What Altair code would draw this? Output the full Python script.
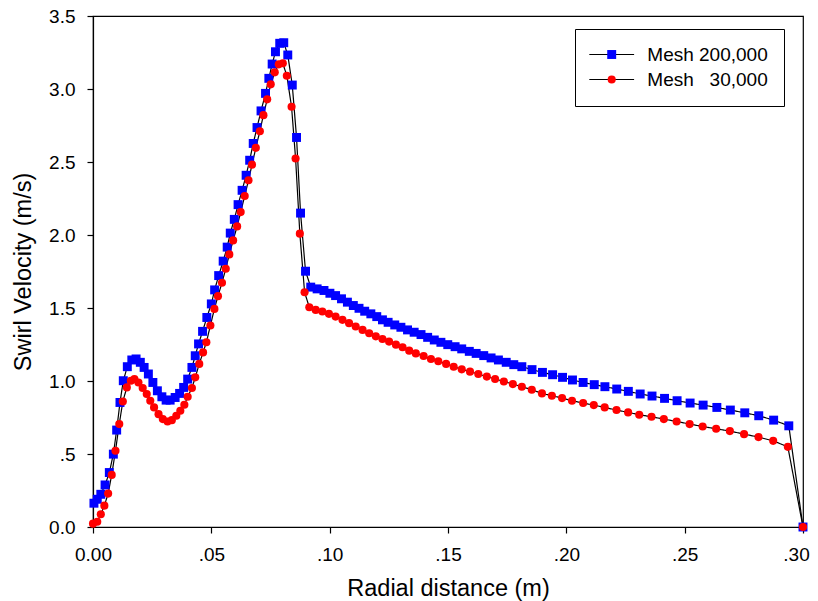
import altair as alt
import pandas as pd

# ---------------- data ----------------
series_names = ["Mesh 200,000", "Mesh\u00a0\u00a0\u00a030,000"]

x_200k = [0.0004, 0.0018, 0.0033, 0.0051, 0.0069, 0.0086, 0.0100, 0.0114, 0.0128, 0.0145,
          0.0164, 0.0182, 0.0200, 0.0216, 0.0234, 0.0253, 0.0272, 0.0291, 0.0309, 0.0326,
          0.0347, 0.0366, 0.0383, 0.0400, 0.0418, 0.0432, 0.0446, 0.0463, 0.0481, 0.0500,
          0.0514, 0.0531, 0.0550, 0.0567, 0.0580, 0.0597, 0.0613, 0.0630, 0.0647, 0.0662,
          0.0677, 0.0693, 0.0710, 0.0729, 0.0743, 0.0757, 0.0771, 0.0789, 0.0806, 0.0823,
          0.0842, 0.0860, 0.0877, 0.0898, 0.0920, 0.0947, 0.0976, 0.1001, 0.1025, 0.1050,
          0.1075, 0.1100, 0.1124, 0.1148, 0.1174, 0.1199, 0.1223, 0.1247, 0.1275, 0.1301,
          0.1329, 0.1357, 0.1386, 0.1414, 0.1442, 0.1470, 0.1499, 0.1530, 0.1558, 0.1590,
          0.1619, 0.1651, 0.1682, 0.1713, 0.1746, 0.1778, 0.1812, 0.1855, 0.1899, 0.1942,
          0.1984, 0.2026, 0.2071, 0.2118, 0.2163, 0.2213, 0.2262, 0.2312, 0.2362, 0.2415,
          0.2468, 0.2523, 0.2578, 0.2636, 0.2693, 0.2754, 0.2813, 0.2876, 0.2940, 0.3000]
v_200k = [0.163, 0.190, 0.224, 0.288, 0.373, 0.499, 0.664, 0.853, 1.002, 1.098,
          1.144, 1.151, 1.128, 1.093, 1.048, 0.990, 0.933, 0.892, 0.869, 0.869,
          0.887, 0.915, 0.956, 1.013, 1.093, 1.173, 1.254, 1.340, 1.435, 1.528,
          1.624, 1.722, 1.821, 1.917, 2.013, 2.107, 2.208, 2.306, 2.409, 2.512,
          2.627, 2.736, 2.850, 2.970, 3.073, 3.171, 3.255, 3.313, 3.317, 3.233,
          3.027, 2.668, 2.150, 1.752, 1.643, 1.631, 1.620, 1.601, 1.585, 1.563,
          1.540, 1.517, 1.498, 1.478, 1.460, 1.441, 1.419, 1.402, 1.384, 1.368,
          1.350, 1.334, 1.318, 1.299, 1.281, 1.265, 1.249, 1.235, 1.220, 1.203,
          1.189, 1.174, 1.158, 1.144, 1.128, 1.112, 1.098, 1.078, 1.059, 1.043,
          1.025, 1.007, 0.990, 0.975, 0.961, 0.945, 0.929, 0.911, 0.897, 0.881,
          0.865, 0.849, 0.835, 0.819, 0.801, 0.782, 0.762, 0.732, 0.693, 0.000]

x_30k = [0.0000, 0.0018, 0.0033, 0.0048, 0.0064, 0.0079, 0.0095, 0.0111, 0.0126, 0.0143,
         0.0160, 0.0175, 0.0192, 0.0210, 0.0227, 0.0242, 0.0258, 0.0277, 0.0295, 0.0315,
         0.0333, 0.0352, 0.0369, 0.0386, 0.0400, 0.0418, 0.0432, 0.0449, 0.0465, 0.0479,
         0.0496, 0.0513, 0.0528, 0.0545, 0.0561, 0.0576, 0.0592, 0.0609, 0.0624, 0.0641,
         0.0657, 0.0672, 0.0688, 0.0705, 0.0720, 0.0736, 0.0751, 0.0768, 0.0785, 0.0802,
         0.0819, 0.0839, 0.0856, 0.0874, 0.0894, 0.0914, 0.0941, 0.0969, 0.0997, 0.1025,
         0.1054, 0.1082, 0.1110, 0.1139, 0.1167, 0.1195, 0.1223, 0.1251, 0.1280, 0.1308,
         0.1336, 0.1364, 0.1397, 0.1428, 0.1459, 0.1492, 0.1524, 0.1558, 0.1593, 0.1628,
         0.1664, 0.1699, 0.1736, 0.1774, 0.1812, 0.1854, 0.1897, 0.1939, 0.1982, 0.2024,
         0.2071, 0.2116, 0.2162, 0.2212, 0.2261, 0.2308, 0.2360, 0.2412, 0.2466, 0.2521,
         0.2576, 0.2633, 0.2691, 0.2751, 0.2812, 0.2874, 0.2936, 0.3000]
v_30k = [0.023, 0.036, 0.087, 0.146, 0.229, 0.357, 0.522, 0.705, 0.860, 0.956,
         1.002, 1.013, 0.990, 0.952, 0.911, 0.865, 0.819, 0.773, 0.739, 0.723,
         0.732, 0.762, 0.796, 0.837, 0.892, 0.952, 1.025, 1.117, 1.196, 1.265,
         1.380, 1.494, 1.581, 1.673, 1.769, 1.867, 1.963, 2.059, 2.157, 2.267,
         2.375, 2.482, 2.597, 2.711, 2.821, 2.929, 3.032, 3.114, 3.169, 3.176,
         3.091, 2.878, 2.524, 2.009, 1.608, 1.505, 1.487, 1.476, 1.460, 1.441,
         1.419, 1.396, 1.373, 1.350, 1.327, 1.306, 1.288, 1.270, 1.249, 1.231,
         1.208, 1.189, 1.171, 1.151, 1.135, 1.117, 1.098, 1.080, 1.064, 1.048,
         1.030, 1.014, 0.997, 0.979, 0.961, 0.940, 0.915, 0.899, 0.883, 0.865,
         0.849, 0.835, 0.819, 0.801, 0.785, 0.769, 0.755, 0.739, 0.723, 0.705,
         0.688, 0.673, 0.657, 0.636, 0.616, 0.590, 0.549, 0.000]

x_ticks = [0.00, 0.05, 0.10, 0.15, 0.20, 0.25, 0.30]
x_tick_labels = ["0.00", ".05", ".10", ".15", ".20", ".25", ".30"]
y_ticks = [0.0, 0.5, 1.0, 1.5, 2.0, 2.5, 3.0, 3.5]
y_tick_labels = ["0.0", ".5", "1.0", "1.5", "2.0", "2.5", "3.0", "3.5"]

series_colors = ["#0000ff", "#ff0000"]
series_shapes = ["square", "circle"]
series_sizes = [80, 66]

# ---------------- table ----------------
df = pd.concat([
    pd.DataFrame({"x": x_200k, "v": v_200k, "series": series_names[0]}),
    pd.DataFrame({"x": x_30k, "v": v_30k, "series": series_names[1]}),
], ignore_index=True)

x_expr = "[" + ",".join(f"'{s}'" for s in x_tick_labels) + "][round(datum.value / 0.05)]"
y_expr = "[" + ",".join(f"'{s}'" for s in y_tick_labels) + "][round(datum.value / 0.5)]"

FONT = "Liberation Sans"

x_enc = alt.X("x:Q", scale=alt.Scale(domain=[0, 0.30], nice=False, zero=False),
              axis=alt.Axis(values=x_ticks, labelExpr=x_expr, title="Radial distance (m)",
                            titleY=68, titleBaseline="alphabetic", labelFlush=False,
                            labelOffset={"condition": {"test": "datum.value > 0.29", "value": -7},
                                         "value": 0}))
y_enc = alt.Y("v:Q", scale=alt.Scale(domain=[0, 3.5], nice=False),
              axis=alt.Axis(values=y_ticks, labelExpr=y_expr, title="Swirl Velocity (m/s)",
                            titleX=-63, titleAngle=270, titleBaseline="alphabetic",
                            labelFlush=False))

LEG_X, LEG_Y, LEG_PAD = 482, 13, 16
SYM_OFF, LAB_OFF = 11.2, 26.1

lines = alt.Chart(df).mark_line(color="black", strokeWidth=1.2).encode(
    x=x_enc, y=y_enc,
    strokeDash=alt.StrokeDash(
        "series:N",
        scale=alt.Scale(domain=series_names, range=[[1, 0], [1, 0]]),
        legend=alt.Legend(title=None, orient="none", legendX=LEG_X, legendY=LEG_Y,
                          padding=LEG_PAD, symbolType="M-2.8,0H2.8", symbolSize=256,
                          symbolStrokeColor="black", symbolStrokeWidth=1.2,
                          symbolOffset=SYM_OFF, labelExpr="' '", labelFontSize=19,
                          labelFont=FONT, labelOffset=LAB_OFF, rowPadding=5, zindex=0),
    ),
    order="x:Q",
)

pt_legend = alt.Legend(title=None, orient="none", legendX=LEG_X, legendY=LEG_Y,
                       padding=LEG_PAD, symbolSize=56, symbolStrokeWidth=0,
                       symbolOffset=SYM_OFF, labelOffset=LAB_OFF, labelFontSize=19,
                       labelFont=FONT, labelColor="black", rowPadding=5,
                       strokeColor="black", zindex=1)

points = alt.Chart(df).mark_point(filled=True, opacity=1, strokeWidth=0).encode(
    x=x_enc, y=y_enc,
    color=alt.Color("series:N", scale=alt.Scale(domain=series_names, range=series_colors),
                    legend=pt_legend),
    shape=alt.Shape("series:N", scale=alt.Scale(domain=series_names, range=series_shapes),
                    legend=pt_legend),
    size=alt.Size("series:N", scale=alt.Scale(domain=series_names, range=series_sizes),
                  legend=None),
)

chart = alt.layer(lines, points).resolve_legend(strokeDash="independent").properties(
    width=710, height=511,
    autosize=alt.AutoSizeParams(type="none"),
    padding={"left": 85, "top": 8, "right": 7, "bottom": 74},
).configure(font=FONT).configure_view(
    stroke="black", strokeWidth=1.2
).configure_axis(
    grid=False, domainColor="black", domainWidth=1.2, tickColor="black", tickWidth=1.2,
    tickSize=6, labelPadding=12, labelFontSize=19, labelColor="black", labelFont=FONT,
    titleFontSize=23.5, titleFont=FONT, titleFontWeight="normal", titleColor="black",
    labelOverlap=False,
)

chart.save("out.html", embed_options={"renderer": "svg", "actions": False})
